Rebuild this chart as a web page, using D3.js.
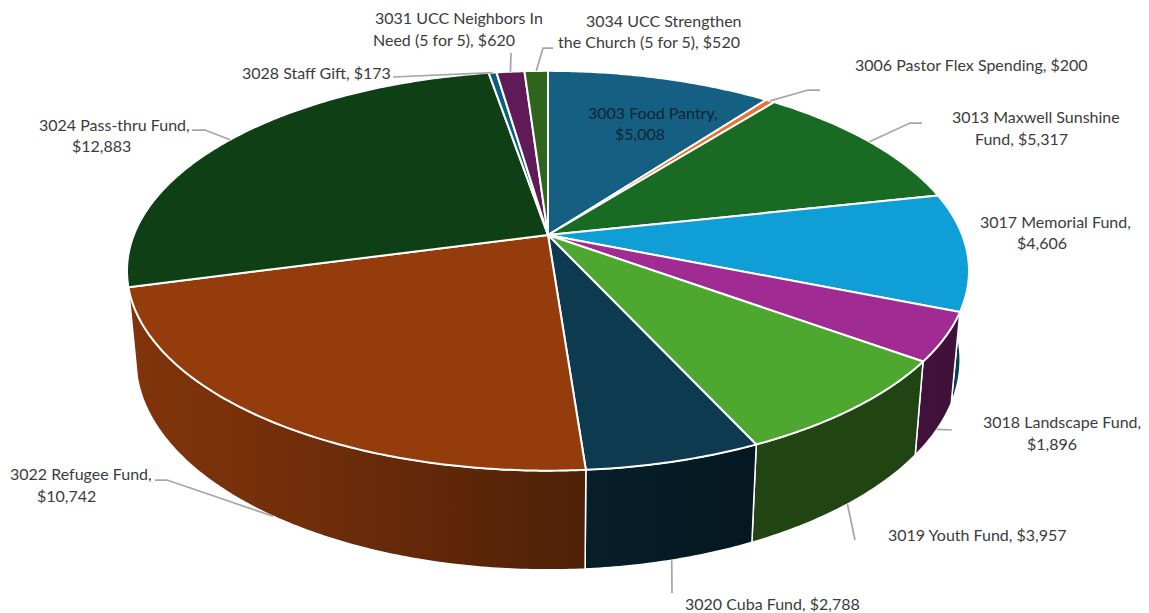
<!DOCTYPE html>
<html>
<head>
<meta charset="utf-8">
<script src="https://cdn.jsdelivr.net/npm/d3@7"></script>
<style>
  body { margin: 0; background: #fff; }
  text { font-family: Lato, sans-serif; font-size: 16px; fill: #3b3b3b; }
</style>
</head>
<body>
<svg id="chart" width="1149" height="613"></svg>
<script>
const funds = ['3003 Food Pantry', '3006 Pastor Flex Spending', '3013 Maxwell Sunshine Fund', '3017 Memorial Fund',
  '3018 Landscape Fund', '3019 Youth Fund', '3020 Cuba Fund', '3022 Refugee Fund', '3024 Pass-thru Fund',
  '3028 Staff Gift', '3031 UCC Neighbors In Need (5 for 5)', '3034 UCC Strengthen the Church (5 for 5)'];
const amounts = [5008, 200, 5317, 4606, 1896, 3957, 2788, 10742, 12883, 173, 620, 520];

const colors = ['#156082', '#e97132', '#196b24', '#0f9ed5', '#a02b93', '#4ea72e',
  '#0d3a4e', '#953c0d', '#0f3f15', '#095f80', '#601a58', '#2f641c'];

// label lines: [text, left x, baseline y]
const labelLines = [
  [['3003 Food Pantry,', 588, 119], ['$5,008', 615, 140]],
  [['3006 Pastor Flex Spending, $200', 855, 71]],
  [['3013 Maxwell Sunshine', 952, 123], ['Fund, $5,317', 975, 145]],
  [['3017 Memorial Fund,', 980, 228], ['$4,606', 1017, 249]],
  [['3018 Landscape Fund,', 983, 428], ['$1,896', 1027, 450]],
  [['3019 Youth Fund, $3,957', 888, 541]],
  [['3020 Cuba Fund, $2,788', 685, 610]],
  [['3022 Refugee Fund,', 10, 480], ['$10,742', 37, 502]],
  [['3024 Pass-thru Fund,', 39, 131], ['$12,883', 72, 152]],
  [['3028 Staff Gift, $173', 242, 79]],
  [['3031 UCC Neighbors In', 375, 24], ['Need (5 for 5), $620', 373, 46]],
  [['3034 UCC Strengthen', 586, 27], ['the Church (5 for 5), $520', 558, 48]]
];

// leader line points on the label side, the slice end is computed
const leaderEnds = [
  null,
  [[820, 90], [808, 90]],
  [[922, 123], [910, 123]],
  null,
  [[952, 430]],
  [[855, 540]],
  [[672, 593]],
  [[155, 480], [167, 480]],
  [[192, 130], [205, 130]],
  [[393, 77]],
  [[511, 53]],
  [[553, 48], [543, 48]]
];

// the pie is a tilted disc seen in perspective, so the rims are projected, not plain ellipses
const persp = 0.1789;
const rimTop = { cx: 548, cy: 235, rx: 414.2, ry: 193.5 };
const rimBottom = { cx: 548, cy: 322, rx: 414.2 * 0.979, ry: 192 * 1.06 };

function project(rim, angle) {
  const sx = Math.sin(angle);
  const fwd = -Math.cos(angle);
  const s = 1 / (1 - persp * fwd);
  return [rim.cx + rim.rx * sx * s, rim.cy + rim.ry * fwd * s];
}

function rimPoints(rim, a0, a1) {
  const n = Math.ceil((a1 - a0) / 0.01) + 1;
  return d3.range(n).map(i => project(rim, a0 + (a1 - a0) * i / (n - 1)));
}

const pie = d3.pie().sort(null).value(d => d);
const slices = pie(amounts);
const line = d3.line();

const svg = d3.select('#chart');
const defs = svg.append('defs');

// side walls get darker from left to right
const shade = d3.scaleLinear()
  .domain([130, 300, 585, 750, 970])
  .range([0.87, 0.76, 0.53, 0.42, 0.4]);

slices.forEach((d, i) => {
  const grad = defs.append('linearGradient')
    .attr('id', 'side' + i)
    .attr('gradientUnits', 'userSpaceOnUse')
    .attr('x1', 130).attr('x2', 970).attr('y1', 0).attr('y2', 0);
  shade.domain().forEach(x => {
    const c = d3.rgb(colors[i]);
    const f = shade(x);
    grad.append('stop')
      .attr('offset', (x - 130) / 840)
      .attr('stop-color', d3.rgb(c.r * f, c.g * f, c.b * f).formatHex());
  });
});

// only slices facing the viewer get a wall, the top faces then cover what is behind
svg.append('g').selectAll('path')
  .data(slices.filter(d => Math.cos((d.startAngle + d.endAngle) / 2) < 0))
  .join('path')
  .attr('d', d => line(rimPoints(rimTop, d.startAngle, d.endAngle)
    .concat(rimPoints(rimBottom, d.startAngle, d.endAngle).reverse())) + 'Z')
  .attr('fill', d => `url(#side${d.index})`)
  .attr('stroke', '#fff')
  .attr('stroke-width', 1.5)
  .attr('stroke-linejoin', 'round');

svg.append('g').selectAll('path')
  .data(slices)
  .join('path')
  .attr('data-fund', (d, i) => funds[i])
  .attr('d', d => line([[rimTop.cx, rimTop.cy]].concat(rimPoints(rimTop, d.startAngle, d.endAngle))) + 'Z')
  .attr('fill', (d, i) => colors[i])
  .attr('stroke', '#fff')
  .attr('stroke-width', 2)
  .attr('stroke-linejoin', 'round');

// leaders touch the top rim at the back, the bottom rim at the front
svg.append('g').selectAll('path')
  .data(slices.filter((d, i) => leaderEnds[i]))
  .join('path')
  .attr('d', d => {
    const mid = (d.startAngle + d.endAngle) / 2;
    const rim = Math.cos(mid) > 0 ? rimTop : rimBottom;
    return line(leaderEnds[d.index].concat([project(rim, mid)]));
  })
  .attr('fill', 'none')
  .attr('stroke', '#a6a6a6')
  .attr('stroke-width', 1.75);

// first label sits on the blue slice and reads darker there
svg.append('g').selectAll('g')
  .data(labelLines)
  .join('g')
  .selectAll('text')
  .data((d, i) => d.map(l => ({ l, i })))
  .join('text')
  .attr('x', d => d.l[1])
  .attr('y', d => d.l[2])
  .style('fill', d => d.i === 0 ? '#0c2533' : null)
  .text(d => d.l[0]);
</script>
</body>
</html>
